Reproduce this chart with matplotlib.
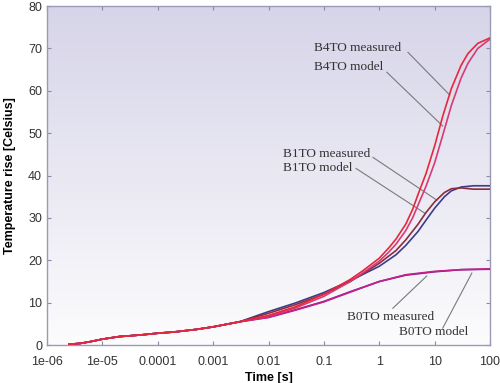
import matplotlib
matplotlib.use("Agg")
import matplotlib.pyplot as plt
import numpy as np

# common early part (all curves overlap)
t_early = [2.5e-6, 4e-6, 6e-6, 1e-5, 2e-5, 5e-5, 1e-4, 2e-4, 5e-4, 1e-3, 3e-3]
v_early = [0.2, 0.4, 0.8, 1.4, 2.0, 2.4, 2.8, 3.1, 3.7, 4.3, 5.5]

t_b4_meas = [0.01, 0.03, 0.1, 0.3, 0.5, 1, 1.5, 2, 3, 4, 5, 7, 10, 14, 20, 30, 40, 60, 100]
v_b4_meas = [7.0, 9.0, 12.0, 15.5, 17.5, 20.5, 23.0, 25.0, 28.5, 32.0, 35.5, 40.5, 47.0, 54.0, 60.5, 66.0, 68.8, 71.2, 72.5]

t_b4_model = [0.01, 0.03, 0.1, 0.3, 0.5, 1, 1.5, 2, 3, 4, 5, 7, 10, 14, 20, 30, 40, 60, 100]
v_b4_model = [6.8, 8.7, 11.5, 15.0, 17.0, 19.8, 22.0, 23.8, 27.0, 30.0, 33.0, 37.5, 43.0, 49.5, 56.5, 63.0, 66.5, 70.0, 72.2]

t_b1_meas = [0.01, 0.03, 0.1, 0.3, 1, 2, 3, 5, 7, 10, 15, 20, 30, 50, 100]
v_b1_meas = [7.5, 9.5, 12.0, 15.0, 19.3, 22.3, 24.8, 28.5, 31.3, 33.8, 36.0, 36.9, 37.1, 36.8, 36.8]

t_b1_model = [0.01, 0.03, 0.1, 0.3, 1, 2, 3, 5, 7, 10, 15, 20, 30, 50, 100]
v_b1_model = [7.9, 9.9, 12.4, 15.2, 18.6, 21.3, 23.5, 26.8, 29.5, 32.3, 35.0, 36.4, 37.3, 37.6, 37.6]

t_b0 = [0.01, 0.03, 0.1, 0.3, 1, 3, 10, 30, 100]
v_b0_meas = [6.6, 8.3, 10.3, 12.6, 15.0, 16.5, 17.3, 17.8, 17.9]
v_b0_model = [6.5, 8.2, 10.2, 12.5, 15.0, 16.6, 17.4, 17.8, 18.0]

series = [
    ("B0TO measured", t_b0, v_b0_meas, "#6a1f8c"),
    ("B0TO model", t_b0, v_b0_model, "#c8208a"),
    ("B1TO model", t_b1_model, v_b1_model, "#3c3c8c"),
    ("B1TO measured", t_b1_meas, v_b1_meas, "#8c2c3c"),
    ("B4TO model", t_b4_model, v_b4_model, "#d83a78"),
    ("B4TO measured", t_b4_meas, v_b4_meas, "#e4283c"),
]

# label text position, leader start, leader end (data coords)
labels = [
    ("B4TO measured", (0.066, 70.0), (3.3, 69.1), (18.8, 59.0)),
    ("B4TO model", (0.066, 65.6), (1.37, 64.4), (14.0, 51.7)),
    ("B1TO measured", (0.018, 45.0), (0.77, 44.3), (11.0, 34.2)),
    ("B1TO model", (0.018, 41.7), (0.38, 41.7), (6.7, 31.1)),
    ("B0TO measured", (0.26, 6.6), (1.76, 8.7), (7.2, 16.3)),
    ("B0TO model", (2.26, 3.1), (14.0, 4.0), (47.0, 17.0)),
]

fig = plt.figure(figsize=(5.0, 3.83), dpi=100)
ax = fig.add_axes([0.094, 0.099, 0.886, 0.885])
ax.set_xscale("log")
ax.set_xlim(1e-6, 100)
ax.set_ylim(0, 80)

# lavender-to-white background gradient
grad = np.linspace(0, 1, 256).reshape(-1, 1)
top = np.array([214, 212, 232]) / 255
bot = np.array([252, 252, 253]) / 255
img = top[None, None, :] * (1 - grad[:, :, None]) + bot[None, None, :] * grad[:, :, None]
ax.imshow(img, extent=[0, 1, 0, 1], transform=ax.transAxes, aspect="auto", zorder=0)

for name, t, v, c in series:
    tt = t_early + t
    vv = v_early + v
    ax.plot(tt, vv, color=c, lw=1.2, zorder=3, solid_joinstyle="round")

for text, pos, p0, p1 in labels:
    ax.text(pos[0], pos[1], text, family="Liberation Serif", fontsize=9.5,
            color="#333333", va="center", ha="left", zorder=4)
    ax.plot([p0[0], p1[0]], [p0[1], p1[1]], color="#7a7a7a", lw=0.8, zorder=2)

ax.set_xticks([1e-6, 1e-5, 1e-4, 1e-3, 1e-2, 1e-1, 1, 10, 100])
ax.set_xticklabels(["1e-06", "1e-05", "0.0001", "0.001", "0.01", "0.1", "1", "10", "100"])
ax.xaxis.set_minor_locator(matplotlib.ticker.NullLocator())
ax.set_yticks(range(0, 81, 10))
ax.tick_params(direction="in", length=3, width=0.8, color="#8a8aa8",
               top=True, right=True, labelsize=9, labelcolor="#333333")
ax.tick_params(axis="x", pad=8)
for lab in ax.get_xticklabels() + ax.get_yticklabels():
    lab.set_family("Liberation Sans")
for s in ax.spines.values():
    s.set_color("#9a9ab4")
    s.set_linewidth(1.0)

ax.set_xlabel("Time [s]", fontsize=9, fontweight="bold", family="Liberation Sans", labelpad=3)
ax.set_ylabel("Temperature rise [Celsius]", fontsize=9, fontweight="bold", family="Liberation Sans", labelpad=9)

fig.savefig("out.png", dpi=100)
